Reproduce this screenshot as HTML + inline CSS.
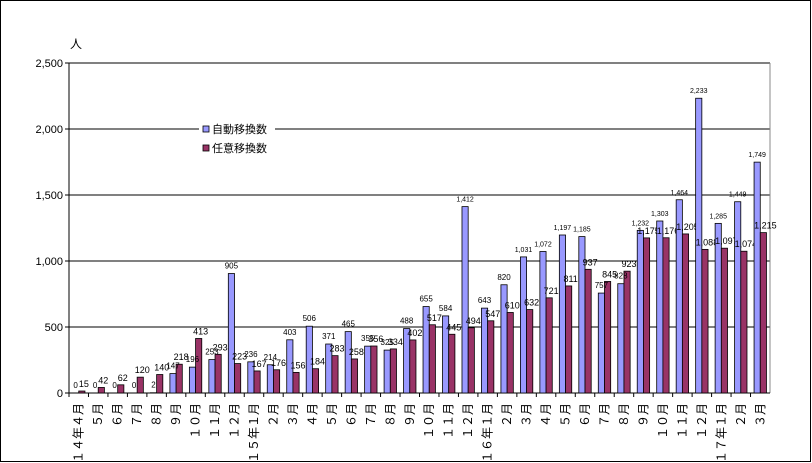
<!DOCTYPE html>
<html><head><meta charset="utf-8">
<style>
body{margin:0;background:#fff;}
#wrap{position:relative;width:812px;height:463px;overflow:hidden;font-family:"Liberation Sans","Noto Sans CJK JP",sans-serif;}
#frame{position:absolute;left:0;top:0;width:809px;height:460px;border:1px solid #000;}
svg{position:absolute;left:0;top:0;}
</style></head>
<body>
<div id="wrap">
<div id="frame"></div>
<svg id="chart" width="812" height="463"></svg>
</div>
<script>
const categories=["１４年４月","５月","６月","７月","８月","９月","１０月","１１月","１２月","１５年１月","２月","３月","４月","５月","６月","７月","８月","９月","１０月","１１月","１２月","１６年１月","２月","３月","４月","５月","６月","７月","８月","９月","１０月","１１月","１２月","１７年１月","２月","３月"];
const autoValues=[0,0,0,0,2,147,196,253,905,236,214,403,506,371,465,355,325,488,655,584,1412,643,820,1031,1072,1197,1185,757,828,1232,1303,1464,2233,1285,1449,1749];
const voluntaryValues=[15,42,62,120,140,218,413,293,223,167,176,156,184,283,258,356,334,402,517,445,494,547,610,632,721,811,937,845,923,1175,1176,1205,1088,1097,1074,1215];
const yTicks=[0,500,1000,1500,2000,2500];
const yTickLabels=["0","500","1,000","1,500","2,000","2,500"];

const NS="http://www.w3.org/2000/svg";
const svg=document.getElementById('chart');
const X0=69,X1=770,Y0=393,Y1=63,YMAX=2500;
const step=(X1-X0)/categories.length;
function y(v){return Y0-(v/YMAX)*(Y0-Y1);}
function x(i){return X0+i*step;}
function fmt(v){return v.toLocaleString('en-US');}
function mk(tag,attrs){const e=document.createElementNS(NS,tag);for(const k in attrs)e.setAttribute(k,attrs[k]);svg.appendChild(e);return e;}

yTicks.forEach((t,i)=>{
  if(t>0){const g=mk('line',{x1:X0,x2:X1,y1:y(t),y2:y(t),stroke:'#000','stroke-width':1});
  
  }
  const tk=mk('line',{x1:X0-4,x2:X0,y1:y(t),y2:y(t),stroke:'#000'});
  
  
  const tl=mk('text',{x:X0-6,y:y(t)+4,'text-anchor':'end','font-size':11});
  tl.textContent=yTickLabels[i];
  
  
});
const ax=mk('line',{x1:X0,x2:X0,y1:Y1,y2:Y0,stroke:'#000'});


const rb=mk('line',{x1:X1,x2:X1,y1:Y1,y2:Y0,stroke:'#888'});


const xa=mk('line',{x1:X0,x2:X1,y1:Y0,y2:Y0,stroke:'#000'});



const bw=6.2;
categories.forEach((c,i)=>{
  const cx=x(i)+step/2;
  const tk=mk('line',{x1:x(i),x2:x(i),y1:Y0,y2:Y0+4,stroke:'#000'});
  
  
  const a=autoValues[i],v=voluntaryValues[i];
  const b1=mk('rect',{x:cx-bw,y:y(a),width:bw,height:Y0-y(a),fill:'#9999ff',stroke:'#000','stroke-width':0.8});
  
  
  const b2=mk('rect',{x:cx,y:y(v),width:bw,height:Y0-y(v),fill:'#993366',stroke:'#000','stroke-width':0.8});
  
  
  const l1=mk('text',{x:cx-bw/2,y:y(a)-5,'text-anchor':'middle','font-size':a>=1000?7:8});
  l1.textContent=fmt(a);
  
  
  const l2=mk('text',{x:cx+bw/2+2,y:y(v)-4,'text-anchor':'middle','font-size':9});
  l2.textContent=fmt(v);
  
  
  const xl=mk('text',{x:0,y:0,'text-anchor':'end','font-size':12,transform:`translate(${cx+4},403) rotate(-90)`});
  xl.textContent=c;
  
  
});

const unit=mk('text',{x:70,y:48,'font-size':12});
unit.textContent='人';



const lg=mk('rect',{x:199,y:121,width:76,height:39,fill:'#fff',stroke:'none'});


[['#9999ff','自動移換数',132],['#993366','任意移換数',151]].forEach(([col,lab,yy])=>{
  const s=mk('rect',{x:203,y:yy-6,width:6,height:6,fill:col,stroke:'#000','stroke-width':0.8});
  
  
  const t=mk('text',{x:212,y:yy+1,'font-size':11});
  t.textContent=lab;
  
  
});
</script>
</body></html>
